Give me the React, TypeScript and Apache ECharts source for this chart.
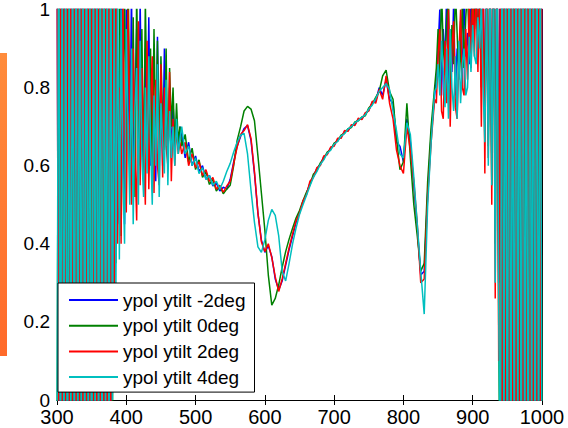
import React, { useEffect, useRef } from "react";
import * as echarts from "echarts";

// ---- wavelength grids (nm), per region ----
const X_LEFT = [
  300, 302.5, 305, 307.5, 310, 312.5, 315, 317.5, 320, 322.5, 325, 327.5,
  330, 332.5, 335, 337.5, 340, 342.5, 345, 347.5, 350, 352.5, 355, 357.5,
  360, 362.5, 365, 367.5, 370, 372.5, 375, 377.5, 380, 382.5, 385, 387.5,
];
const X_NOISY1 = [
  390, 392.5, 395, 397.5, 400, 402.5, 405, 407.5, 410, 412.5, 415, 417.5,
  420, 422.5, 425, 427.5, 430, 432.5, 435, 437.5, 440, 442.5, 445, 447.5,
  450, 452.5, 455, 457.5, 460, 462.5, 465, 467.5, 470, 472.5, 475, 477.5,
];
const X_SMOOTH = [
  480, 485, 490, 495, 500, 505, 510, 515, 520, 525, 530, 535, 540, 545,
  550, 555, 560, 565, 570, 575, 580, 585, 590, 595, 600, 605, 610, 615,
  620, 625, 630, 635, 640, 645, 650, 655, 660, 665, 670, 675, 680, 685,
  690, 695, 700, 705, 710, 715, 720, 725, 730, 735, 740, 745, 750, 755,
  760, 765, 770, 775, 780, 785, 790, 795, 800, 805, 810, 815, 820, 825,
  830, 835, 840, 845,
];
const X_NOISY2 = [
  847.5, 850, 852.5, 855, 857.5, 860, 862.5, 865, 867.5, 870, 872.5, 875,
  877.5, 880, 882.5, 885, 887.5, 890, 892.5, 895, 897.5, 900, 902.5, 905,
  907.5, 910, 912.5, 915, 917.5, 920, 922.5, 925, 927.5, 930, 932.5, 935, 937.5,
];
const X_RIGHT = [
  940, 942.5, 945, 947.5, 950, 952.5, 955, 957.5, 960, 962.5, 965, 967.5,
  970, 972.5, 975, 977.5, 980, 982.5, 985, 987.5, 990, 992.5, 995, 997.5, 1000,
];

// ---- ypol ytilt -2deg ----
const M2_LEFT = [
  1.3, -0.3, 1.2, -0.2, 1.4, -0.4, 1.1, -0.1, 1.3, -0.3, 1.2, -0.2,
  1.4, -0.4, 1.3, -0.1, 1.1, -0.3, 1.3, -0.2, 1.2, -0.4, 1.4, -0.1,
  1.3, -0.3, 1.2, -0.2, 1.4, -0.1, 1.1, -0.3, 1.2, 0.3, 1.1, 0.45,
];
const M2_NOISY1 = [
  0.5, 1.1, 0.72, 0.45, 1.0, 0.85, 0.6, 1.05, 0.55, 0.78, 0.95, 0.62,
  1.02, 0.7, 0.58, 0.9, 0.65, 0.98, 0.6, 0.85, 0.72, 0.56, 0.93, 0.64,
  0.82, 0.6, 0.9, 0.7, 0.65, 0.8, 0.62, 0.76, 0.66, 0.72, 0.64, 0.7,
];
const M2_SMOOTH = [
  0.68, 0.62, 0.66, 0.6, 0.625, 0.585, 0.6, 0.565, 0.575, 0.548, 0.556, 0.535, 0.545, 0.54,
  0.565, 0.61, 0.65, 0.675, 0.695, 0.703, 0.665, 0.58, 0.478, 0.41, 0.378, 0.395, 0.367, 0.31,
  0.282, 0.305, 0.345, 0.385, 0.42, 0.455, 0.48, 0.507, 0.528, 0.555, 0.573, 0.592, 0.603, 0.622,
  0.63, 0.645, 0.653, 0.667, 0.673, 0.687, 0.69, 0.702, 0.706, 0.72, 0.72, 0.733, 0.742, 0.762,
  0.765, 0.8, 0.78, 0.82, 0.77, 0.76, 0.66, 0.65, 0.61, 0.72, 0.66, 0.55, 0.44, 0.32,
  0.33, 0.53, 0.68, 0.78,
];
const M2_NOISY2 = [
  0.82, 0.9, 1.0, 0.78, 0.95, 0.86, 1.05, 0.8, 0.92, 0.84, 1.02, 0.78,
  0.9, 0.85, 0.97, 0.8, 1.05, 0.88, 0.94, 0.86, 1.05, 0.92, 0.98, 1.08,
  0.9, 1.02, 0.86, 1.1, 0.75, 1.05, 0.7, 1.15, 0.62, 1.2, 0.5, 1.25, 0.3,
];
const M2_RIGHT = [
  1.4, -0.4, 1.3, -0.3, 1.5, -0.5, 1.2, -0.2, 1.4, -0.4, 1.3, -0.3,
  1.4, -0.5, 1.2, -0.2, 1.5, -0.4, 1.3, -0.3, 1.4, -0.5, 1.2, -0.2, 1.3,
];

// ---- ypol ytilt 0deg ----
const P0_LEFT = [
  -0.2, 1.3, -0.1, 1.2, -0.4, 1.4, -0.2, 1.3, -0.3, 1.1, -0.1, 1.4,
  -0.3, 1.2, -0.2, 1.3, -0.4, 1.1, -0.2, 1.4, -0.1, 1.2, -0.3, 1.3,
  -0.2, 1.4, -0.1, 1.2, -0.3, 1.3, -0.2, 1.2, -0.1, 1.2, 0.35, 1.1,
];
const P0_NOISY1 = [
  1.1, 0.42, 0.8, 1.05, 0.5, 1.1, 0.75, 0.55, 0.98, 0.52, 1.05, 0.7,
  0.6, 0.95, 0.56, 1.02, 0.75, 0.62, 0.9, 0.58, 0.95, 0.66, 0.92, 0.6,
  0.88, 0.72, 0.64, 0.9, 0.6, 0.85, 0.7, 0.8, 0.64, 0.76, 0.66, 0.7,
];
const P0_SMOOTH = [
  0.65, 0.68, 0.61, 0.645, 0.59, 0.615, 0.57, 0.585, 0.552, 0.565, 0.535, 0.548, 0.528, 0.54,
  0.55, 0.6, 0.665, 0.7, 0.74, 0.752, 0.745, 0.715, 0.625, 0.53, 0.435, 0.32, 0.243, 0.26,
  0.295, 0.34, 0.38, 0.412, 0.44, 0.466, 0.485, 0.51, 0.532, 0.55, 0.578, 0.588, 0.607, 0.618,
  0.635, 0.641, 0.658, 0.663, 0.678, 0.683, 0.695, 0.698, 0.712, 0.715, 0.725, 0.728, 0.748, 0.758,
  0.775, 0.79, 0.83, 0.845, 0.79, 0.77, 0.67, 0.59, 0.61, 0.76, 0.62, 0.5, 0.42, 0.33,
  0.35, 0.56, 0.7, 0.8,
];
const P0_NOISY2 = [
  0.85, 0.95, 0.82, 1.05, 0.9, 0.85, 0.98, 1.02, 0.8, 0.96, 0.86, 1.05,
  0.94, 0.82, 0.88, 1.02, 0.85, 0.98, 1.05, 0.9, 0.92, 1.1, 0.95, 1.05,
  0.88, 1.08, 0.8, 1.0, 0.72, 1.1, 0.65, 1.15, 0.55, 1.2, 0.4, 1.3, 0.2,
];
const P0_RIGHT = [
  -0.4, 1.2, -0.2, 1.4, -0.3, 1.3, -0.5, 1.5, -0.2, 1.2, -0.4, 1.4,
  -0.3, 1.3, -0.2, 1.5, -0.4, 1.2, -0.5, 1.4, -0.3, 1.3, -0.2, 1.4, -0.3,
];

// ---- ypol ytilt 2deg ----
const P2_LEFT = [
  1.2, -0.2, 1.5, -0.3, 1.1, -0.1, 1.3, -0.4, 1.2, -0.2, 1.4, -0.3,
  1.2, -0.1, 1.3, -0.3, 1.1, -0.2, 1.4, -0.4, 1.3, -0.1, 1.2, -0.3,
  1.3, -0.2, 1.4, -0.1, 1.2, -0.3, 1.3, -0.2, 1.1, 0.1, 1.2, 0.4,
];
const P2_NOISY1 = [
  0.8, 0.4, 1.05, 0.6, 0.48, 1.0, 0.7, 0.5, 0.9, 0.62, 0.46, 0.97,
  0.55, 0.85, 0.66, 0.5, 0.92, 0.54, 0.75, 0.88, 0.53, 0.82, 0.6, 0.55,
  0.86, 0.57, 0.8, 0.65, 0.6, 0.84, 0.56, 0.72, 0.6, 0.7, 0.63, 0.66,
];
const P2_SMOOTH = [
  0.63, 0.66, 0.6, 0.63, 0.595, 0.61, 0.575, 0.59, 0.56, 0.57, 0.54, 0.55, 0.532, 0.548,
  0.56, 0.605, 0.648, 0.68, 0.69, 0.705, 0.67, 0.585, 0.48, 0.405, 0.38, 0.4, 0.365, 0.315,
  0.278, 0.31, 0.35, 0.39, 0.425, 0.458, 0.478, 0.51, 0.525, 0.56, 0.57, 0.595, 0.6, 0.625,
  0.628, 0.648, 0.65, 0.67, 0.67, 0.69, 0.688, 0.705, 0.703, 0.722, 0.718, 0.736, 0.74, 0.765,
  0.76, 0.795, 0.77, 0.83, 0.76, 0.72, 0.64, 0.6, 0.58, 0.7, 0.64, 0.56, 0.45, 0.3,
  0.31, 0.52, 0.66, 0.77,
];
const P2_NOISY2 = [
  0.76, 0.88, 0.95, 0.74, 0.72, 0.92, 0.76, 1.0, 0.7, 0.9, 0.97, 0.75,
  0.72, 0.88, 1.0, 0.8, 0.78, 0.95, 0.82, 1.02, 0.85, 1.05, 0.88, 1.1,
  0.84, 1.05, 0.7, 1.12, 0.58, 1.1, 0.62, 1.2, 0.5, 1.25, 0.26, 1.3, 0.1,
];
const P2_RIGHT = [
  1.2, -0.3, 1.5, -0.4, 1.1, -0.2, 1.4, -0.5, 1.3, -0.3, 1.4, -0.4,
  1.2, -0.2, 1.5, -0.3, 1.3, -0.4, 1.4, -0.5, 1.2, -0.2, 1.4, -0.3, 1.3,
];

// ---- ypol ytilt 4deg ----
const P4_LEFT = [
  -0.1, 1.4, -0.3, 1.2, -0.2, 1.3, -0.4, 1.1, -0.1, 1.3, -0.3, 1.4,
  -0.2, 1.2, -0.1, 1.3, -0.3, 1.4, -0.2, 1.1, -0.4, 1.3, -0.1, 1.2,
  -0.2, 1.3, -0.3, 1.4, -0.1, 1.2, -0.2, 1.3, 0.0, 1.05, 0.28, 1.1,
];
const P4_NOISY1 = [
  0.36, 1.0, 0.6, 0.4, 0.95, 0.7, 0.5, 0.9, 0.45, 0.75, 0.85, 0.5,
  0.92, 0.62, 0.52, 0.8, 0.58, 0.88, 0.66, 0.5, 0.78, 0.6, 0.86, 0.52,
  0.76, 0.66, 0.58, 0.82, 0.55, 0.74, 0.62, 0.7, 0.6, 0.72, 0.63, 0.67,
];
const P4_SMOOTH = [
  0.7, 0.63, 0.65, 0.6, 0.62, 0.58, 0.595, 0.565, 0.575, 0.55, 0.56, 0.54, 0.56, 0.585,
  0.606, 0.635, 0.66, 0.678, 0.683, 0.63, 0.537, 0.455, 0.392, 0.378, 0.41, 0.46, 0.488, 0.473,
  0.42, 0.33, 0.305, 0.35, 0.4, 0.44, 0.475, 0.5, 0.524, 0.548, 0.57, 0.585, 0.603, 0.615,
  0.632, 0.64, 0.655, 0.662, 0.676, 0.682, 0.694, 0.7, 0.71, 0.716, 0.724, 0.73, 0.745, 0.755,
  0.772, 0.79, 0.8, 0.81, 0.795, 0.74, 0.69, 0.63, 0.62, 0.71, 0.68, 0.57, 0.45, 0.33,
  0.22, 0.5, 0.66, 0.79,
];
const P4_NOISY2 = [
  0.8, 0.86, 0.78, 0.92, 0.84, 0.75, 0.9, 0.72, 0.95, 0.8, 0.74, 0.88,
  0.72, 0.92, 0.76, 0.86, 0.9, 0.78, 0.8, 0.93, 0.84, 0.96, 0.88, 0.86,
  0.98, 0.9, 1.02, 0.8, 0.66, 1.05, 0.6, 1.1, 0.55, 1.15, 0.3, 1.2, 0.25,
];
const P4_RIGHT = [
  -0.3, 1.4, -0.2, 1.3, -0.5, 1.5, -0.4, 1.2, -0.3, 1.4, -0.2, 1.3,
  -0.4, 1.5, -0.3, 1.2, -0.5, 1.4, -0.2, 1.3, -0.4, 1.4, -0.3, 1.3, -0.2,
];

const WAVELENGTHS = [...X_LEFT, ...X_NOISY1, ...X_SMOOTH, ...X_NOISY2, ...X_RIGHT];
const TILT_M2 = [...M2_LEFT, ...M2_NOISY1, ...M2_SMOOTH, ...M2_NOISY2, ...M2_RIGHT];
const TILT_0 = [...P0_LEFT, ...P0_NOISY1, ...P0_SMOOTH, ...P0_NOISY2, ...P0_RIGHT];
const TILT_2 = [...P2_LEFT, ...P2_NOISY1, ...P2_SMOOTH, ...P2_NOISY2, ...P2_RIGHT];
const TILT_4 = [...P4_LEFT, ...P4_NOISY1, ...P4_SMOOTH, ...P4_NOISY2, ...P4_RIGHT];

const SERIES_NAMES = ["ypol ytilt -2deg", "ypol ytilt 0deg", "ypol ytilt 2deg", "ypol ytilt 4deg"];
const SERIES_COLORS = ["#0000ff", "#008000", "#ff0000", "#00bfbf"];
const SERIES_VALUES = [TILT_M2, TILT_0, TILT_2, TILT_4];

const X_MIN = 300;
const X_MAX = 1000;
const X_STEP = 100;
const Y_MIN = 0;
const Y_MAX = 1;
const Y_STEP = 0.2;

const FONT = "'Liberation Sans', Arial, Helvetica, sans-serif";

export default function App() {
  const ref = useRef<HTMLDivElement>(null);

  useEffect(() => {
    if (!ref.current) return;
    const chart = echarts.init(ref.current, undefined, { renderer: "svg" });

    const tick = { show: true, inside: true, length: 5, lineStyle: { color: "#000", width: 1 } };
    const line = { show: true, lineStyle: { color: "#000", width: 1 } };

    const option = {
      animation: false,
      backgroundColor: "#ffffff",
      grid: { left: 57, right: 26, top: 9, bottom: 28, containLabel: false },
      graphic: [
        {
          type: "rect",
          left: 0,
          top: 53,
          shape: { x: 0, y: 0, width: 7, height: 303 },
          style: {
            fill: new echarts.graphic.LinearGradient(0, 0, 0, 1, [
              { offset: 0, color: "#ff8c3c" },
              { offset: 1, color: "#ff6a2a" },
            ]),
          },
          z: 10,
        },
      ],
      legend: {
        show: true,
        orient: "vertical",
        left: 58,
        top: 283,
        icon: "rect",
        itemWidth: 49,
        itemHeight: 2,
        itemGap: 3.7,
        padding: [6, 9, 4, 11],
        backgroundColor: "#ffffff",
        borderColor: "#000000",
        borderWidth: 1,
        borderRadius: 0,
        textStyle: { fontSize: 19, fontFamily: FONT, color: "#000", lineHeight: 22 },
        data: SERIES_NAMES,
        selectedMode: false,
      },
      xAxis: [
        {
          type: "value",
          min: X_MIN,
          max: X_MAX,
          interval: X_STEP,
          position: "bottom",
          axisLine: line,
          axisTick: tick,
          splitLine: { show: false },
          axisLabel: {
            fontSize: 20,
            fontFamily: FONT,
            color: "#000",
            margin: 7,
            formatter: (v: number) => String(v),
          },
        },
        {
          type: "value",
          min: X_MIN,
          max: X_MAX,
          interval: X_STEP,
          position: "top",
          axisLine: line,
          axisTick: tick,
          splitLine: { show: false },
          axisLabel: { show: false },
        },
      ],
      yAxis: [
        {
          type: "value",
          min: Y_MIN,
          max: Y_MAX,
          interval: Y_STEP,
          position: "left",
          axisLine: line,
          axisTick: tick,
          splitLine: { show: false },
          axisLabel: { fontSize: 19, fontFamily: FONT, color: "#000", margin: 7 },
        },
        {
          type: "value",
          min: Y_MIN,
          max: Y_MAX,
          interval: Y_STEP,
          position: "right",
          axisLine: line,
          axisTick: tick,
          splitLine: { show: false },
          axisLabel: { show: false },
        },
      ],
      series: SERIES_NAMES.map((name, s) => ({
        name,
        type: "line",
        xAxisIndex: 0,
        yAxisIndex: 0,
        symbol: "none",
        clip: true,
        lineStyle: { color: SERIES_COLORS[s], width: 1.5 },
        itemStyle: { color: SERIES_COLORS[s] },
        data: WAVELENGTHS.map((w, i) => [w, SERIES_VALUES[s][i]]),
      })),
    };

    chart.setOption(option as any);
    return () => chart.dispose();
  }, []);

  return (
    <div
      ref={ref}
      style={{ position: "fixed", left: 0, top: 0, width: 568, height: 428, background: "#fff" }}
    />
  );
}
